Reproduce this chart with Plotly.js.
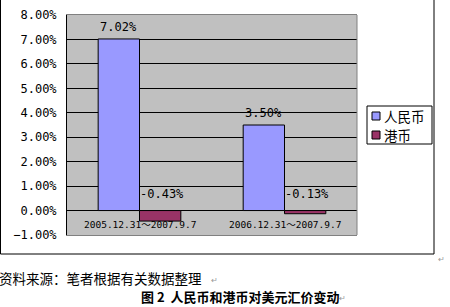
<!DOCTYPE html>
<html>
<head>
<meta charset="utf-8">
<script src="https://cdn.plot.ly/plotly-3.0.1.min.js"></script>
<style>
html,body{margin:0;padding:0;background:#fff;}
#chart{width:450px;height:307px;}
</style>
</head>
<body>
<div id="chart"></div>
<script>
// ---- data ----
const categories = ["2005.12.31～2007.9.7", "2006.12.31～2007.9.7"];
const seriesNames = ["人民币", "港币"];
const rmbValues = [0.0702, 0.0350];
const hkdValues = [-0.0043, -0.0013];
const seriesColors = ["#9999FF", "#993366"];
const sourceText = "资料来源：笔者根据有关数据整理";
const captionText = "图 2  人民币和港币对美元汇价变动";

// ---- layout helpers ----
const W = 450, H = 307;
const M = {l: 67, r: 93, t: 15, b: 72};
const pw = W - M.l - M.r, ph = H - M.t - M.b;
const px2x = p => (p - M.l) / pw;
const px2y = p => (H - M.b - p) / ph;
const bargap = 0.43;
const off = (1 - bargap) / 4;
const monoFont = "'DejaVu Sans Mono', 'Liberation Mono', 'Noto Sans CJK SC', monospace";
const cjkFont = "'Noto Sans CJK SC', sans-serif";

const traces = [
  {type: "bar", x: categories, y: rmbValues, name: seriesNames[0],
   marker: {color: seriesColors[0], line: {color: "#000", width: 1}}, hoverinfo: "none"},
  {type: "bar", x: categories, y: hkdValues, name: seriesNames[1],
   marker: {color: seriesColors[1], line: {color: "#000", width: 1}}, hoverinfo: "none"}
];

const fmt = v => (v * 100).toFixed(2) + "%";
const annotations = [];
// value labels
rmbValues.forEach((v, i) => annotations.push({
  xref: "x", yref: "y", x: i - off, y: v, text: fmt(v), showarrow: false,
  yanchor: "bottom", yshift: 3, font: {family: monoFont, size: 12, color: "#000"}
}));
hkdValues.forEach((v, i) => annotations.push({
  xref: "x", yref: "y", x: i + off, y: 0, text: fmt(v), showarrow: false,
  xanchor: "center", xshift: 2, yanchor: "bottom", yshift: 8,
  font: {family: monoFont, size: 12, color: "#000"}
}));
// category labels at the zero line
categories.forEach((c, i) => annotations.push({
  xref: "x", yref: "y", x: i, y: 0, text: c, showarrow: false,
  yanchor: "top", yshift: -6, font: {family: monoFont, size: 9.5, color: "#000"}
}));
// legend (custom, compact)
const shapes = [];
const legX0 = 367, legY0 = 106, legX1 = 432, legY1 = 144;
shapes.push({type: "rect", xref: "paper", yref: "paper",
  x0: px2x(legX0), x1: px2x(legX1), y0: px2y(legY1), y1: px2y(legY0),
  line: {color: "#000", width: 1}, fillcolor: "#fff"});
seriesNames.forEach((n, i) => {
  const cy = 116 + i * 19;
  shapes.push({type: "rect", xref: "paper", yref: "paper",
    x0: px2x(372), x1: px2x(380), y0: px2y(cy + 4), y1: px2y(cy - 4),
    line: {color: "#000", width: 1}, fillcolor: seriesColors[i]});
  annotations.push({xref: "paper", yref: "paper", x: px2x(383), y: px2y(cy),
    xanchor: "left", yanchor: "middle", text: n, showarrow: false,
    borderpad: 0,
    font: {family: cjkFont, size: 13.5, color: "#000"}});
});
// outer chart border
shapes.push({type: "rect", xref: "paper", yref: "paper",
  x0: px2x(0.5), x1: px2x(434), y0: px2y(254), y1: px2y(-2),
  line: {color: "#000", width: 1}, fillcolor: "rgba(0,0,0,0)", layer: "below"});
// plot-area gray border (right)
shapes.push({type: "line", xref: "paper", yref: "paper", x0: 1, x1: 1, y0: 0, y1: 1,
  line: {color: "#808080", width: 1}});
// footer text
annotations.push({xref: "paper", yref: "paper", x: px2x(-3), y: px2y(278),
  xanchor: "left", yanchor: "middle", text: sourceText, showarrow: false,
  font: {family: cjkFont, size: 13.5, color: "#000"}});
annotations.push({xref: "paper", yref: "paper", x: px2x(240), y: px2y(296),
  xanchor: "center", yanchor: "middle", text: "<b>" + captionText + "</b>", showarrow: false,
  font: {family: cjkFont, size: 13, color: "#000"}});
// paragraph marks
[[441, 258], [214, 279], [342, 297]].forEach(p => annotations.push({
  xref: "paper", yref: "paper", x: px2x(p[0]), y: px2y(p[1]),
  xanchor: "center", yanchor: "middle", text: "↵", showarrow: false,
  font: {family: cjkFont, size: 8, color: "#999"}}));

const layout = {
  width: W, height: H,
  margin: M,
  paper_bgcolor: "#fff",
  plot_bgcolor: "#C0C0C0",
  showlegend: false,
  barmode: "group",
  bargap: bargap,
  bargroupgap: 0,
  xaxis: {
    type: "category", showticklabels: false, ticks: "",
    showline: true, linecolor: "#808080", linewidth: 1, mirror: true,
    showgrid: false, zeroline: false, fixedrange: true
  },
  yaxis: {
    range: [-0.01, 0.08], dtick: 0.01, tick0: 0, tickformat: ".2%",
    showgrid: true, gridcolor: "#000", gridwidth: 1,
    zeroline: true, zerolinecolor: "#000", zerolinewidth: 1,
    showline: true, linecolor: "#000", linewidth: 1,
    ticks: "outside", ticklen: 7, tickcolor: "rgba(0,0,0,0)",
    tickfont: {family: monoFont, size: 12, color: "#000"},
    fixedrange: true
  },
  annotations: annotations,
  shapes: shapes
};

Plotly.newPlot("chart", traces, layout, {displayModeBar: false, staticPlot: true});
</script>
</body>
</html>
